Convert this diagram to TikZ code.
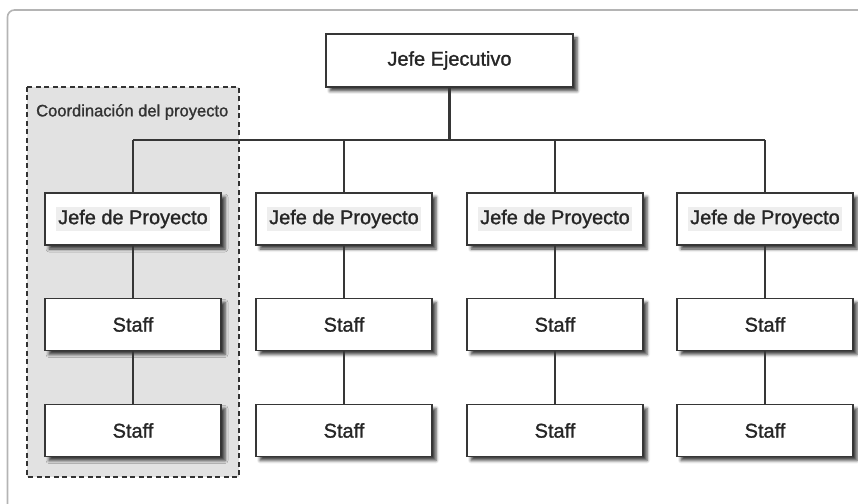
\documentclass[tikz,border=0pt]{standalone}
\usepackage{fontspec}
\setmainfont{Liberation Sans}
\newfontfamily\heavyface[FakeBold=1.3]{Liberation Sans}
\usetikzlibrary{shadows.blur}
\definecolor{linegray}{HTML}{363636}
\definecolor{framegray}{HTML}{B4B4B4}
\definecolor{zonegray}{HTML}{E2E2E2}
\definecolor{labelgray}{HTML}{EEEEEE}
\tikzset{
  orgbox/.style={draw=linegray, line width=1.7bp, fill=white,
    minimum width=176bp, minimum height=52bp, inner sep=0pt,
    font=\heavyface\fontsize{20}{23}\selectfont, text=black!85,
    blur shadow={shadow xshift=4bp, shadow yshift=-4bp,
      shadow blur radius=3bp, shadow opacity=75}},
  chiefbox/.style={orgbox, minimum width=247bp, minimum height=53bp},
  link/.style={draw=linegray, line width=1.6bp},
  zone/.style={draw=black!80, fill=zonegray, line width=2bp,
    dash pattern=on 5bp off 3.5bp},
}
\newcommand{\pmlabel}[1]{{\setlength{\fboxsep}{2.5bp}\colorbox{labelgray}{#1}}}
\begin{document}
\begin{tikzpicture}[x=1bp, y=-1bp]
  \useasboundingbox (0,0) rectangle (858,504);
  % page frame, open to the right and bottom
  \begin{scope}
    \clip (0,0) rectangle (858,504);
    \draw[framegray, line width=1.6bp, rounded corners=7bp]
      (7.5,10) rectangle (880,512);
  \end{scope}

  % project coordination zone
  \draw[zone] (27,87) rectangle (239,477);
  \node[anchor=west, font=\heavyface\fontsize{16.6}{19}\selectfont, text=black!80, inner sep=0pt]
    (zonelabel) at (36,112) {Coordinación del proyecto};

  % executive
  \node[chiefbox] (ceo) at (449.5,60.5) {Jefe Ejecutivo};

  % project chiefs and their staff
  \foreach \i/\x in {1/133, 2/344, 3/555, 4/765} {
    \node[orgbox] (pm\i) at (\x,219) {\pmlabel{Jefe de Proyecto}};
    \node[orgbox] (sa\i) at (\x,324.5) {Staff};
    \node[orgbox] (sb\i) at (\x,430.5) {Staff};
  }

  % bus under the executive
  \coordinate (busL) at (133,140);
  \coordinate (busR) at (765,140);
  \coordinate (busM) at (449.5,140);
  \draw[link, line width=2.6bp] (ceo.south) -- (busM);
  \draw[link] (busL) -- (busR);
  \foreach \i in {1,2,3,4} {
    \draw[link] (pm\i.north |- busL) -- (pm\i.north);
    \draw[link] (pm\i.south) -- (sa\i.north);
    \draw[link] (sa\i.south) -- (sb\i.north);
  }
\end{tikzpicture}
\end{document}
